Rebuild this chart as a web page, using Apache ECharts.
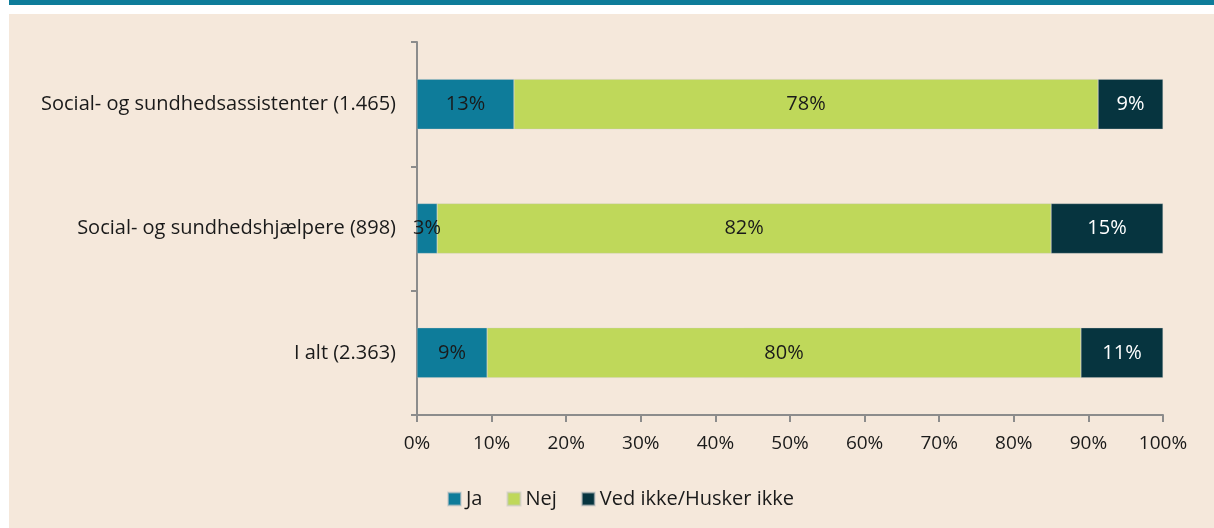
<!DOCTYPE html>
<html>
<head>
<meta charset="utf-8">
<script src="https://cdn.jsdelivr.net/npm/echarts@6/dist/echarts.min.js"></script>
<style>
  html, body { margin: 0; padding: 0; background: #fff; }
  #topbar { position: absolute; left: 9px; top: 0; width: 1205px; height: 5px; background: #0e7c9a; }
  #chart { position: absolute; left: 9px; top: 14px; width: 1205px; height: 514px; background: #f5e8db; }
</style>
</head>
<body>
<div id="topbar"></div>
<div id="chart"></div>
<script>
// kategorier (antal i parentes)
var categories = ['Social- og sundhedsassistenter (1.465)', 'Social- og sundhedshjælpere (898)', 'I alt (2.363)'];
var ja = [13.0, 2.7, 9.4];
var nej = [78.3, 82.3, 79.6];
var vedIkke = [8.7, 15.0, 11.0];
var seriesNames = ['Ja', 'Nej', 'Ved ikke/Husker ikke'];
var colors = ['#0e7c9a', '#bfd85a', '#06343f'];

var fontFam = '"Open Sans", "Noto Sans", sans-serif';

function barSeries(name, data, color, labelColor) {
    return {
        name: name,
        type: 'bar',
        stack: 'total',
        barWidth: 50,
        data: data,
        itemStyle: { color: color, borderColor: 'rgba(200,200,200,0.6)', borderWidth: 0.5 },
        label: {
            show: true,
            position: 'inside',
            color: labelColor,
            fontSize: 20,
            fontFamily: fontFam,
            formatter: function (p) { return Math.round(p.value) + '%'; }
        }
    };
}

var myChart = echarts.init(document.getElementById('chart'));
myChart.setOption({
    animation: false,
    color: colors,
    grid: { left: 408, right: 51, top: 28, bottom: 113 },
    legend: {
        top: 470,
        left: 433,
        itemWidth: 13,
        itemHeight: 13,
        itemGap: 24,
        icon: 'rect',
        textStyle: { fontSize: 20, color: '#1a1a1a', fontFamily: fontFam },
        data: seriesNames
    },
    xAxis: {
        type: 'value',
        min: 0,
        max: 100,
        interval: 10,
        splitLine: { show: false },
        axisLine: { show: true, lineStyle: { color: '#8c8c8c', width: 2 } },
        axisTick: { show: true, length: 7, lineStyle: { color: '#8c8c8c', width: 2 } },
        axisLabel: { fontSize: 19, color: '#1a1a1a', fontFamily: fontFam, margin: 19, formatter: '{value}%' }
    },
    yAxis: {
        type: 'category',
        inverse: true,
        data: categories,
        axisLine: { show: true, lineStyle: { color: '#8c8c8c', width: 2 } },
        axisTick: { show: true, length: 6, lineStyle: { color: '#8c8c8c', width: 2 } },
        axisLabel: { fontSize: 20, color: '#1a1a1a', fontFamily: fontFam, margin: 21 }
    },
    series: [
        barSeries(seriesNames[0], ja, colors[0], '#1a1a1a'),
        barSeries(seriesNames[1], nej, colors[1], '#1a1a1a'),
        barSeries(seriesNames[2], vedIkke, colors[2], '#ffffff')
    ]
});
</script>
</body>
</html>
